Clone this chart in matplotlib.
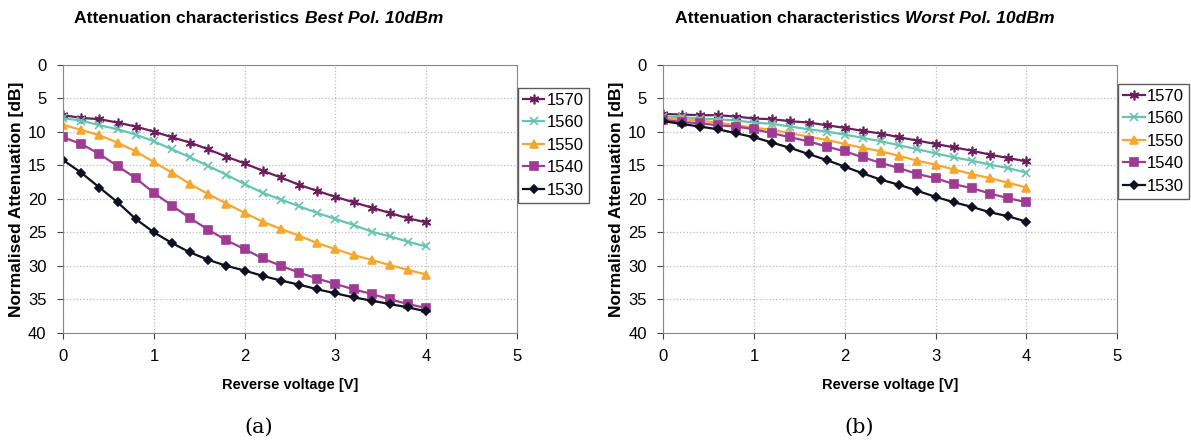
import matplotlib
matplotlib.use("Agg")
import matplotlib.pyplot as plt
import numpy as np

plt.rcParams['font.family'] = ['Liberation Sans', 'DejaVu Sans']

voltage = np.round(np.arange(0, 4.01, 0.2), 1)
wavelengths = ["1570", "1560", "1550", "1540", "1530"]

# best polarisation (a)
best_1570 = [7.5, 7.9, 8.1, 8.6, 9.2, 9.95, 10.8, 11.6, 12.6, 13.7, 14.7,
             15.8, 16.8, 17.9, 18.8, 19.7, 20.5, 21.3, 22.1, 22.9, 23.5]
best_1560 = [7.96, 8.3, 9.0, 9.6, 10.4, 11.4, 12.6, 13.8, 15.1, 16.4, 17.8,
             19.1, 20.1, 21.1, 22.1, 23.0, 23.9, 24.9, 25.6, 26.4, 27.1]
best_1550 = [8.96, 9.7, 10.5, 11.6, 12.9, 14.5, 16.1, 17.8, 19.3, 20.7, 22.1,
             23.4, 24.5, 25.5, 26.6, 27.5, 28.4, 29.1, 29.9, 30.6, 31.3]
best_1540 = [10.8, 11.8, 13.3, 15.1, 16.9, 19.1, 21.0, 22.9, 24.6, 26.2, 27.5,
             28.9, 30.0, 31.0, 31.9, 32.7, 33.5, 34.2, 35.0, 35.7, 36.3]
best_1530 = [14.2, 16.1, 18.3, 20.5, 23.0, 25.0, 26.6, 28.0, 29.1, 30.0, 30.7,
             31.5, 32.2, 32.8, 33.5, 34.1, 34.7, 35.2, 35.7, 36.2, 36.8]

# worst polarisation (b)
worst_1570 = [7.3, 7.4, 7.5, 7.5, 7.7, 8.0, 8.1, 8.4, 8.6, 9.0, 9.4,
              9.85, 10.25, 10.8, 11.3, 11.8, 12.3, 12.8, 13.4, 13.9, 14.4]
worst_1560 = [7.7, 7.8, 8.0, 8.1, 8.3, 8.6, 8.8, 9.2, 9.6, 9.95, 10.4,
              10.9, 11.4, 12.0, 12.6, 13.2, 13.8, 14.3, 14.9, 15.4, 16.1]
worst_1550 = [7.96, 8.1, 8.3, 8.6, 9.0, 9.35, 9.7, 10.2, 10.7, 11.2, 11.8,
              12.4, 12.9, 13.6, 14.3, 14.9, 15.6, 16.3, 16.9, 17.6, 18.3]
worst_1540 = [8.2, 8.5, 8.7, 9.0, 9.2, 9.6, 10.2, 10.8, 11.4, 12.2, 12.9,
              13.8, 14.65, 15.4, 16.3, 16.9, 17.8, 18.4, 19.2, 19.9, 20.5]
worst_1530 = [8.4, 8.8, 9.2, 9.6, 10.2, 10.8, 11.6, 12.4, 13.3, 14.2, 15.2,
              16.2, 17.15, 17.9, 18.8, 19.7, 20.5, 21.2, 22.0, 22.6, 23.4]

colors = ['#6b1e5b', '#66c4b1', '#f5a830', '#9e3b93', '#0f1020']
markers = [(6, 2, 0), 'x', '^', 's', 'D']
msizes = [7, 6, 6, 5.5, 4.5]

fig = plt.figure(figsize=(11.91, 4.42), dpi=100)
ax1 = fig.add_axes([0.053, 0.247, 0.381, 0.606])
ax2 = fig.add_axes([0.557, 0.247, 0.381, 0.606])

panels = [
    (ax1, [best_1570, best_1560, best_1550, best_1540, best_1530], 'Best Pol. 10dBm', '(a)', 0.915),
    (ax2, [worst_1570, worst_1560, worst_1550, worst_1540, worst_1530], 'Worst Pol. 10dBm', '(b)', 0.93),
]

for ax, series, subt, cap, ly in panels:
    for vals, lab, c, m, ms in zip(series, wavelengths, colors, markers, msizes):
        ax.plot(voltage, vals, color=c, marker=m, markersize=ms, linewidth=1.6,
                markeredgewidth=1.2, label=lab)
    ax.set_xlim(0, 5)
    ax.set_ylim(40, 0)
    ax.set_xticks(range(0, 6))
    ax.set_yticks(range(0, 41, 5))
    ax.grid(True, color='#bbbbbb', linestyle=':', linewidth=0.9)
    for s in ax.spines.values():
        s.set_color('#888888')
    ax.tick_params(direction='out', length=4, labelsize=12, color='#444444', pad=8)
    ax.set_xlabel('Reverse voltage [V]', fontsize=10.5, fontweight='bold', labelpad=10)
    ax.set_ylabel('Normalised Attenuation [dB]', fontsize=12.5, fontweight='bold', labelpad=3)

    # title: bold part + bold italic part
    ax.annotate('Attenuation characteristics', xy=(0.527, 1), xycoords='axes fraction',
                xytext=(-2, 30), textcoords='offset points', ha='right', va='baseline',
                fontsize=12.6, fontweight='bold')
    ax.annotate(subt, xy=(0.527, 1), xycoords='axes fraction',
                xytext=(2, 30), textcoords='offset points', ha='left', va='baseline',
                fontsize=12.6, fontweight='bold', fontstyle='italic')

    leg = ax.legend(loc='upper left', bbox_to_anchor=(1.002, ly), fontsize=12,
                    frameon=True, fancybox=False, edgecolor='#333333',
                    handlelength=1.3, handletextpad=0.15, borderpad=0.3,
                    labelspacing=0.45, borderaxespad=0.0)
    leg.get_frame().set_linewidth(1.0)
    ax.text(0.432, -0.354, cap, transform=ax.transAxes, ha='center', va='center',
            fontsize=15, family='DejaVu Serif')

fig.savefig('out.png', dpi=100)
